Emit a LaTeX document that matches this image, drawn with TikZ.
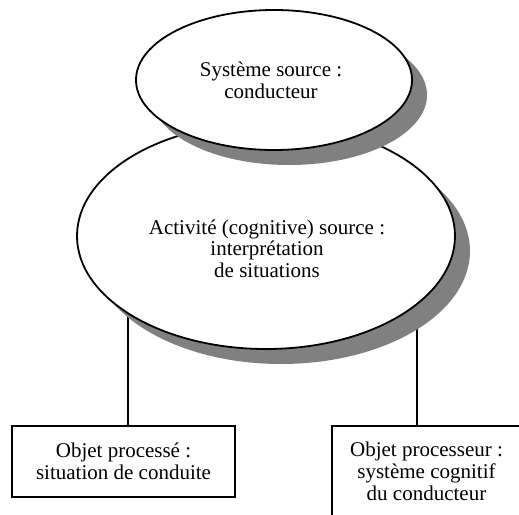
\documentclass[tikz,border=0pt]{standalone}
\usepackage{fontspec}
\setmainfont{Liberation Serif}
\usetikzlibrary{shapes.geometric,shadows}
\pgfdeclarelayer{bg}
\pgfsetlayers{bg,main}
\definecolor{shadowgray}{RGB}{128,128,128}
\tikzset{
  oval/.style={ellipse, draw=black, line width=1.8pt, fill=white, inner sep=0pt,
    drop shadow={shadow xshift=15pt, shadow yshift=-15pt, fill=shadowgray, opacity=1}},
  txt/.style={align=center, inner sep=0pt, font=\fontsize{21}{21.7}\selectfont},
  boxnode/.style={draw=black, line width=2.6pt, fill=white, inner sep=0pt,
    align=center, font=\fontsize{21}{21.7}\selectfont},
  conn/.style={draw=black, line width=1.5pt}
}
\begin{document}
\begin{tikzpicture}[x=1pt,y=-1pt]
\useasboundingbox (0,0) rectangle (519,514);
% big ellipse
\node[oval, minimum width=378pt, minimum height=226pt] (big) at (266,236) {};
\node[txt] (bigtext) at (267,248.6) {Activité (cognitive) source :\\interprétation\\de situations};
% top ellipse
\node[oval, minimum width=276pt, minimum height=140pt] (top) at (274,80) {};
\node[txt] (toptext) at (271,80.5) {Système source :\\conducteur};
% boxes
\node[boxnode, minimum width=223pt, minimum height=71pt] (lbox) at (123.5,461.5)
  {Objet processé :\\situation de conduite};
\node[boxnode, minimum width=189pt, minimum height=91pt] (rbox) at (426.5,471.5)
  {Objet processeur :\\système cognitif\\du conducteur};
% connectors behind
\begin{pgfonlayer}{bg}
\draw[conn] ([xshift=4.5pt]lbox.north) -- ([xshift=4.5pt]lbox.north |- big.center);
\draw[conn] ([xshift=-9.5pt]rbox.north) -- ([xshift=-9.5pt]rbox.north |- big.center);
\end{pgfonlayer}
\end{tikzpicture}
\end{document}
